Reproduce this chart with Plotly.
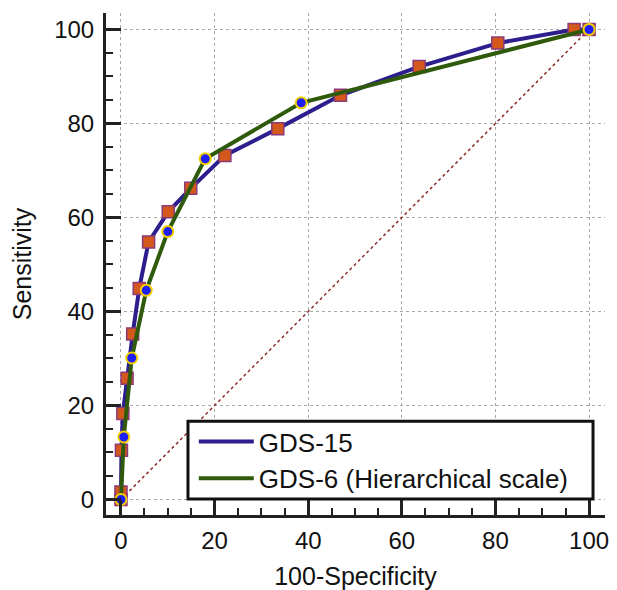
import plotly.graph_objects as go

# GDS-15 ROC points (100-Specificity, Sensitivity)
gds15_x = [0, 0, 0.1, 0.4, 1.3, 2.5, 3.9, 5.9, 10.1, 14.9, 22.2, 33.5, 46.9, 63.7, 80.5, 96.8, 100]
gds15_y = [0, 1.6, 10.5, 18.3, 25.8, 35.2, 44.9, 54.8, 61.2, 66.2, 73.2, 78.9, 86.0, 92.1, 97.1, 100, 100]

# GDS-6 (Hierarchical scale) ROC points
gds6_x = [0, 0.6, 2.3, 5.4, 10.0, 18.0, 38.5, 100]
gds6_y = [0, 13.3, 30.1, 44.5, 57.0, 72.5, 84.4, 100]

# Reference (chance) diagonal
diag_x = [0, 100]
diag_y = [0, 100]

tick_vals = [0, 20, 40, 60, 80, 100]
tick_text = ["0", "20", "40", "60", "80", "100"]

FONT = "Liberation Sans, Arial, sans-serif"
BLUE_LINE = "#2C1E8C"
GREEN_LINE = "#2F5A0C"
SQ_FILL = "#D4571C"
SQ_EDGE = "#8A3A78"
CIR_FILL = "#1E1EF5"
CIR_EDGE = "#F2D000"
AXIS = "#222222"

fig = go.Figure()

fig.add_trace(go.Scatter(x=diag_x, y=diag_y, mode="lines",
                         line=dict(color="#8B2A2A", width=1.5, dash="dot"),
                         showlegend=False, hoverinfo="skip"))

fig.add_trace(go.Scatter(x=gds15_x, y=gds15_y, mode="lines", name="GDS-15",
                         line=dict(color=BLUE_LINE, width=4)))
fig.add_trace(go.Scatter(x=gds15_x, y=gds15_y, mode="markers", showlegend=False,
                         marker=dict(symbol="square", size=12, color=SQ_FILL,
                                     line=dict(color=SQ_EDGE, width=1.5))))
fig.add_trace(go.Scatter(x=gds6_x, y=gds6_y, mode="lines", name="GDS-6 (Hierarchical scale)",
                         line=dict(color=GREEN_LINE, width=4)))
fig.add_trace(go.Scatter(x=gds6_x, y=gds6_y, mode="markers", showlegend=False,
                         marker=dict(symbol="circle", size=11, color=CIR_FILL,
                                     line=dict(color=CIR_EDGE, width=2))))

axis_common = dict(
    showline=True, linecolor=AXIS, linewidth=3, mirror=False,
    ticks="inside", ticklen=15, tickwidth=3, tickcolor=AXIS,
    tickvals=tick_vals, ticktext=tick_text,
    tickfont=dict(family=FONT, size=24, color="#111111"),
    showgrid=True, gridcolor="#A8A8A8", gridwidth=1, griddash="dot",
    zeroline=False, automargin=False,
    minor=dict(ticks="inside", ticklen=7, tickwidth=2, tickcolor=AXIS,
               dtick=5, tick0=0, showgrid=False),
)

fig.update_xaxes(range=[-3.2, 103.4],
                 title=dict(text="100-Specificity", font=dict(family=FONT, size=25, color="#111111"),
                            standoff=20),
                 ticklabelstandoff=2, **axis_common)
fig.update_yaxes(range=[-3.3, 103.5],
                 title=dict(text="Sensitivity", font=dict(family=FONT, size=25, color="#111111"),
                            standoff=19),
                 ticklabelstandoff=4, **axis_common)

# legend frame (layout decoration, paper coordinates)
fig.add_shape(type="rect", xref="paper", yref="paper",
              x0=0.1643, x1=0.976, y0=0.032, y1=0.187,
              line=dict(color="#111111", width=3), fillcolor="white", layer="above")

fig.update_layout(
    width=609, height=582,
    margin=dict(l=98, r=12, t=5, b=75, autoexpand=False),
    plot_bgcolor="white", paper_bgcolor="white",
    font=dict(family=FONT, size=24, color="#111111"),
    legend=dict(x=0.176, y=0.193, xanchor="left", yanchor="top",
                bgcolor="rgba(0,0,0,0)", borderwidth=0,
                font=dict(family=FONT, size=26, color="#111111"),
                itemwidth=55, tracegroupgap=0),
    showlegend=True,
)

fig.write_html("out.html")
